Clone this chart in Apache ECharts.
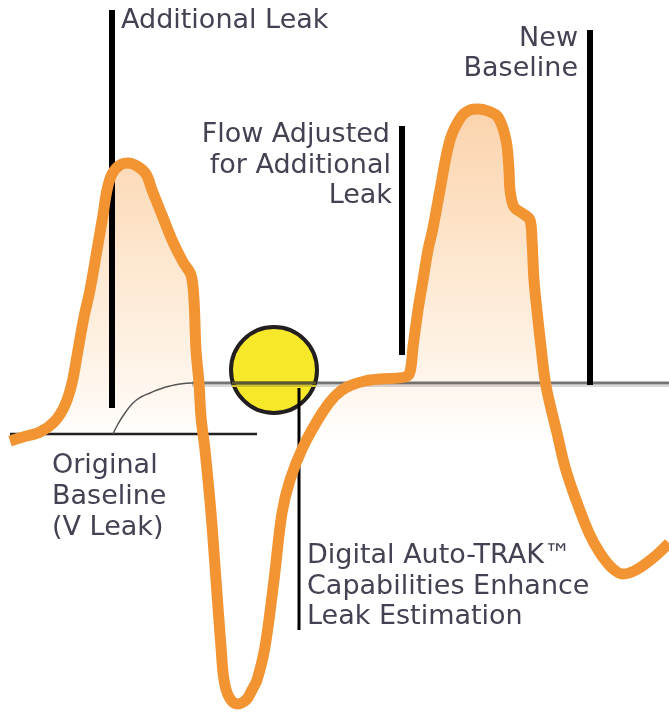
<!DOCTYPE html>
<html>
<head>
<meta charset="utf-8">
<script src="https://cdn.jsdelivr.net/npm/echarts@6/dist/echarts.min.js"></script>
<style>html,body{margin:0;padding:0;background:#fff}#c{width:669px;height:715px}</style>
</head>
<body>
<div id="c"></div>
<script>
// Flow waveform: time (arbitrary units) and flow (relative to new baseline = 0)
const time = [10,23,40,55,65,72,78,84,90,97,103,107,112,120,128,137,146,152,162,172,183,191,194,196,199,201,205,211,216,221,224,229,237,246,252,257,265,274,282,290,303,322,335,347,365,380,405,410,413,418,423,428,433,440,450,461,470,478,488,498,506,509,510,514,522,530,532,534,538,541,545,549,557,565,576,589,600,612,623,636,653,669];
const flow = [-58,-54,-49,-38,-22,0,33,66,93,133,168,193,209,218,220,217,209,193,168,143,121,108,83,33,0,-34,-67,-130,-197,-264,-297,-314,-321,-317,-307,-297,-264,-197,-130,-97,-64,-30,-13,-4,2,4,6,11,36,73,103,133,155,193,243,266,273,274,272,266,243,213,193,176,170,163,143,103,63,36,3,-17,-50,-84,-117,-150,-170,-185,-191,-187,-175,-160];

// Baselines
const newBaseline = 0;
const originalBaseline = -51;
const baselineStart = [192, 669];
const insideCircle = [232, 316];
const originalStart = [10, 257];
// transition arc from original to new baseline
const arcTime = [113,118,125,133,141,150,160,170,180,192];
const arcFlow = [-51,-41,-30,-20,-14,-10,-6,-3,-1,0];

// Annotation marker lines: [time, flowTop, flowBottom]
const markerAdditional = [112, 373, -25];
const markerNewBase = [590, 353, -2];
const markerAdjusted = [402, 257, 28];
const markerAutoTrak = [299, -5, -247];

// Auto-TRAK point
const trakPoint = [274, 13];

// Text labels: [text, time, flow, align]
const labels = [
  ['Additional Leak', 121, 362, 'left'],
  ['New', 578, 344, 'right'],
  ['Baseline', 578, 314, 'right'],
  ['Flow Adjusted', 390, 248, 'right'],
  ['for Additional', 391, 217, 'right'],
  ['Leak', 392, 187, 'right'],
  ['Original', 52, -83, 'left'],
  ['Baseline', 52, -114, 'left'],
  ['(V Leak)', 52, -145, 'left'],
  ['Digital Auto-TRAK\u2122', 307, -173, 'left'],
  ['Capabilities Enhance', 307, -204, 'left'],
  ['Leak Estimation', 307, -234, 'left']
];

const curve = time.map((t, i) => [t, flow[i]]);
const seg = (m) => [[m[0], m[1]], [m[0], m[2]]];
const chart = echarts.init(document.getElementById('c'), null, {renderer: 'canvas'});

function lineSeries(data, color, width, z, smooth) {
  return {type: 'line', data, symbol: 'none', silent: true, zlevel: 1, z, smooth: smooth || false,
    lineStyle: {color, width, cap: 'butt'}, animation: false};
}

const option = {
  animation: false,
  grid: {left: 0, right: 0, top: 0, bottom: 0},
  xAxis: {type: 'value', min: 0, max: 669, show: false},
  yAxis: {type: 'value', min: -332, max: 383, show: false},
  series: [
    {type: 'scatter', data: [trakPoint], symbolSize: 86, zlevel: 0, z: 2, silent: true,
      itemStyle: {color: '#F7E92A', borderColor: '#231F20', borderWidth: 4, opacity: 1}},
    {type: 'line', data: curve, symbol: 'none', smooth: 0.35, zlevel: 0, z: 1, silent: true,
      lineStyle: {width: 0},
      areaStyle: {origin: 'start', color: {type: 'linear', x: 0, y: 100, x2: 0, y2: 445, global: true,
        colorStops: [{offset: 0, color: '#F8BE86'}, {offset: 0.45, color: '#FCDBB8'}, {offset: 0.83, color: '#FEF1E4'}, {offset: 1, color: '#FFFFFF'}]}}},
    lineSeries([[baselineStart[0], newBaseline - 3], [baselineStart[1], newBaseline - 3]], 'rgba(0,0,0,0.15)', 2, 4),
    lineSeries([[baselineStart[0], newBaseline], [baselineStart[1], newBaseline]], 'rgba(30,30,30,0.62)', 3, 4),
    lineSeries([[insideCircle[0], newBaseline], [insideCircle[1], newBaseline]], '#5A5630', 3, 5),
    lineSeries([[insideCircle[0], newBaseline - 3], [insideCircle[1], newBaseline - 3]], '#CFC22E', 2, 5),
    lineSeries([[originalStart[0], originalBaseline], [originalStart[1], originalBaseline]], '#231F20', 2.5, 4),
    lineSeries(arcTime.map((t, i) => [t, arcFlow[i]]), '#555555', 1.5, 4, true),
    lineSeries(seg(markerAdditional), '#000000', 6, 4),
    lineSeries(seg(markerNewBase), '#000000', 6, 4),
    lineSeries(seg(markerAdjusted), '#000000', 6, 4),
    lineSeries(seg(markerAutoTrak), '#000000', 3, 6),
    {type: 'line', data: curve, symbol: 'none', smooth: 0.35, zlevel: 1, z: 6, silent: true,
      lineStyle: {color: '#F39433', width: 11, join: 'round'}}
  ]
};
chart.setOption(option);

const graphics = labels.map(([text, t, f, align]) => {
  const p = chart.convertToPixel({gridIndex: 0}, [t, f]);
  return {type: 'text', x: p[0], y: p[1], zlevel: 1, z: 10, silent: true,
    style: {text, fill: '#424252', font: '27px "DejaVu Sans"', textAlign: align, textVerticalAlign: 'middle'}};
});
chart.setOption({graphic: graphics});
</script>
</body>
</html>
